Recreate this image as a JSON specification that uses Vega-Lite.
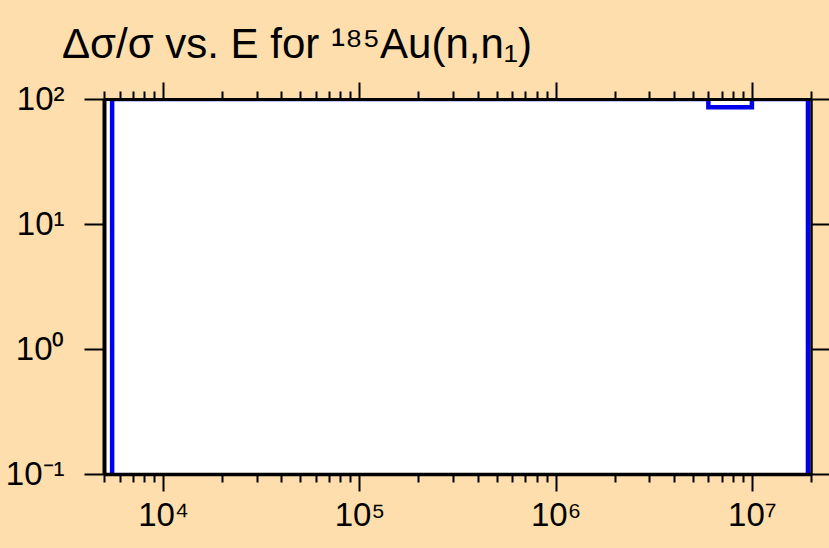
{
  "$schema": "https://vega.github.io/schema/vega-lite/v6.json",
  "width": 707,
  "height": 375,
  "autosize": {"type": "none"},
  "padding": {"left": 104, "top": 99, "right": 18, "bottom": 74},
  "background": "#FFDEAD",
  "config": {
    "view": {"fill": "white", "stroke": null},
    "font": "Liberation Sans"
  },
  "title": {
    "text": "Δσ/σ vs. E for ¹⁸⁵Au(n,n₁)",
    "anchor": "start",
    "frame": "group",
    "dx": -42,
    "fontSize": 42,
    "fontWeight": "normal",
    "font": "Liberation Sans",
    "color": "black",
    "offset": 14
  },
  "data": {
    "values": [
      {"E": 5500, "d": 0.1, "i": 0},
      {"E": 5500, "d": 100, "i": 1},
      {"E": 6000000, "d": 86, "i": 2},
      {"E": 10000000, "d": 100, "i": 3},
      {"E": 19300000, "d": 0.1, "i": 4}
    ]
  },
  "resolve": {"axis": {"x": "independent", "y": "independent"}},
  "layer": [
    {
      "mark": {"type": "line", "interpolate": "step-after", "color": "#0000EE", "strokeWidth": 4.5, "clip": true},
      "encoding": {
        "x": {
          "field": "E", "type": "quantitative",
          "scale": {"type": "log", "domain": [5000, 20000000], "nice": false},
          "axis": {
            "orient": "bottom", "title": null, "zindex": 1,
            "values": [5000, 6000, 7000, 8000, 9000, 10000, 20000, 30000, 40000, 50000, 60000, 70000, 80000, 90000, 100000, 200000, 300000, 400000, 500000, 600000, 700000, 800000, 900000, 1000000, 2000000, 3000000, 4000000, 5000000, 6000000, 7000000, 8000000, 9000000, 10000000, 20000000],
            "domainColor": "black", "domainWidth": 3.5,
            "tickColor": "black", "tickWidth": 2,
            "tickSize": {"condition": {"test": "datum.value == 1e4 || datum.value == 1e5 || datum.value == 1e6 || datum.value == 1e7", "value": 17}, "value": 8},
            "labelExpr": "datum.value == 1e4 ? '10⁴' : datum.value == 1e5 ? '10⁵' : datum.value == 1e6 ? '10⁶' : datum.value == 1e7 ? '10⁷' : ''",
            "labelFont": "Liberation Sans",
            "labelFontSize": 33, "labelColor": "black",
            "labelPadding": 8, "labelOverlap": false, "labelFlush": false,
            "grid": false
          }
        },
        "y": {
          "field": "d", "type": "quantitative",
          "scale": {"type": "log", "domain": [0.1, 100], "nice": false},
          "axis": {
            "orient": "left", "title": null, "zindex": 1,
            "values": [0.1, 1, 10, 100],
            "domainColor": "black", "domainWidth": 4,
            "tickColor": "black", "tickWidth": 2, "tickSize": 20,
            "labelExpr": "datum.value == 100 ? '10²' : datum.value == 10 ? '10¹' : datum.value == 1 ? '10⁰' : '10⁻¹'",
            "labelFont": "Liberation Sans",
            "labelFontSize": 33, "labelColor": "black",
            "labelPadding": 20, "labelOverlap": false, "labelFlush": false,
            "grid": false
          }
        },
        "order": {"field": "i", "type": "quantitative"}
      }
    },
    {
      "mark": {"type": "line", "opacity": 0},
      "encoding": {
        "x": {
          "field": "E", "type": "quantitative",
          "axis": {
            "orient": "top", "title": null, "zindex": 1, "labels": false,
            "values": [5000, 6000, 7000, 8000, 9000, 10000, 20000, 30000, 40000, 50000, 60000, 70000, 80000, 90000, 100000, 200000, 300000, 400000, 500000, 600000, 700000, 800000, 900000, 1000000, 2000000, 3000000, 4000000, 5000000, 6000000, 7000000, 8000000, 9000000, 10000000, 20000000],
            "domainColor": "black", "domainWidth": 3,
            "tickColor": "black", "tickWidth": 2,
            "tickSize": {"condition": {"test": "datum.value == 1e4 || datum.value == 1e5 || datum.value == 1e6 || datum.value == 1e7", "value": 17}, "value": 8},
            "grid": false
          }
        },
        "y": {
          "field": "d", "type": "quantitative",
          "axis": {
            "orient": "right", "title": null, "zindex": 1, "labels": false,
            "values": [0.1, 1, 10, 100],
            "domainColor": "black", "domainWidth": 2.5,
            "tickColor": "black", "tickWidth": 2, "tickSize": 18,
            "grid": false
          }
        },
        "order": {"field": "i", "type": "quantitative"}
      }
    }
  ]
}
